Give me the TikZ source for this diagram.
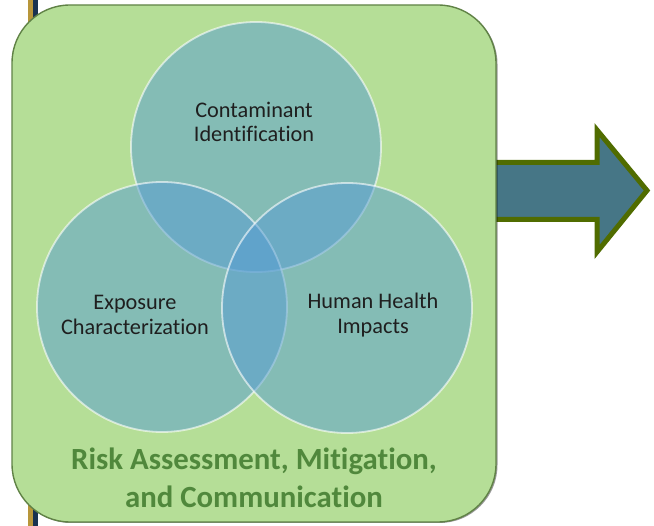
\documentclass[tikz,border=0pt]{standalone}
\usepackage{fontspec}
\setmainfont{Carlito}[Ligatures=NoCommon]
\definecolor{boxgreen}{RGB}{181,222,151}
\definecolor{boxedge}{RGB}{96,130,70}
\definecolor{circfill}{RGB}{85,156,211}
\definecolor{arrowfill}{RGB}{70,118,134}
\definecolor{arrowedge}{RGB}{80,108,0}
\definecolor{titlegreen}{RGB}{80,136,60}
\definecolor{goldline}{RGB}{184,150,58}
\definecolor{navyline}{RGB}{25,50,80}
\tikzset{
  vcircle/.style={circle, minimum size=250pt, inner sep=0pt, fill=circfill, fill opacity=0.5, draw=white, draw opacity=0.6, line width=1.8pt},
  vlabel/.style={align=center, font=\fontsize{22.3}{24.5}\selectfont, text=black!88},
  titletext/.style={align=center, font=\fontsize{30.8}{37.5}\selectfont\bfseries, text=titlegreen},
  bigarrow/.style={fill=arrowfill, draw=arrowedge, line width=5pt, line join=miter},
  panel/.style={rounded corners=58pt, fill=boxgreen, draw=boxedge, line width=1.4pt}
}
\begin{document}
\begin{tikzpicture}[x=1pt,y=-1pt]
\useasboundingbox (0,0) rectangle (654,526);
% side lines
\fill[goldline] (28,0) rectangle (33,526);
\fill[navyline] (33,0) rectangle (38,526);
% arrow
\draw[bigarrow] (480,162.5) -- (597,162.5) -- (597,130) -- (647,190.5) -- (597,252) -- (597,219.5) -- (480,219.5) -- cycle;
% shadow and panel
\fill[black, opacity=0.4, rounded corners=58pt] (13,6) rectangle (497.5,523);
\draw[panel] (12,5) rectangle (496,522);
% circles
\node[vcircle] (top) at (256,147) {};
\node[vcircle] (left) at (162,307) {};
\node[vcircle] (right) at (347,308) {};
% labels
\node[vlabel] (ttop) at (254,122) {Contaminant\\Identification};
\node[vlabel] (tleft) at (135,315) {Exposure\\Characterization};
\node[vlabel] (tright) at (373,315) {Human Health\\Impacts};
\node[titletext] (title) at (254,478) {Risk Assessment, Mitigation,\\and Communication};
\end{tikzpicture}
\end{document}
